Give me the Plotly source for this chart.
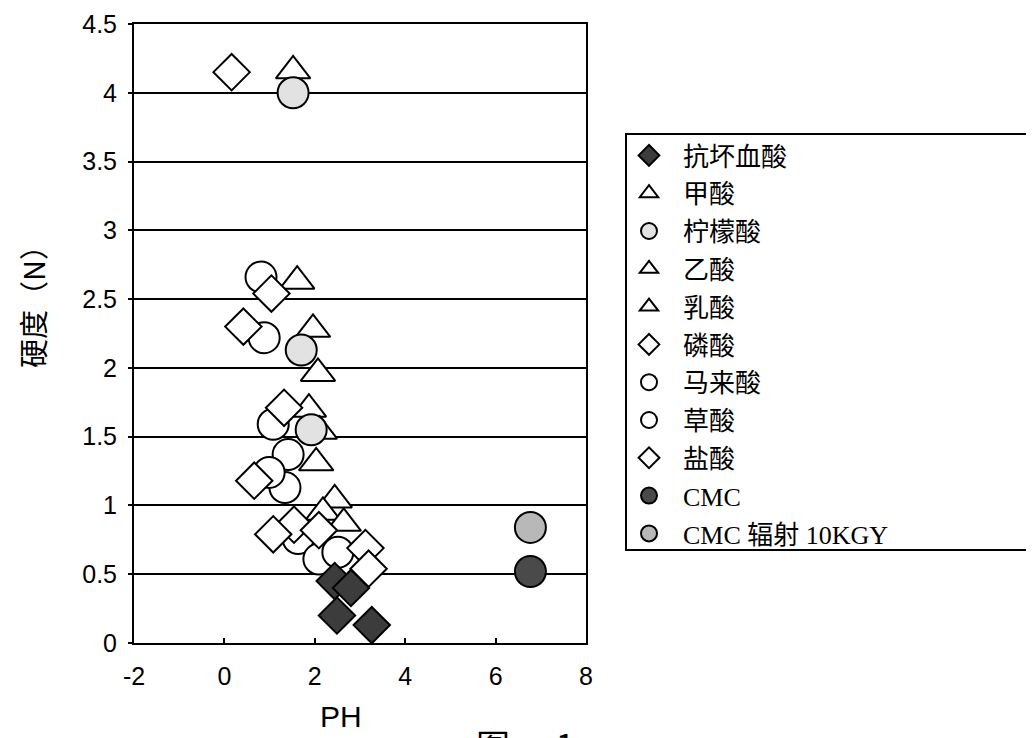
import plotly.graph_objects as go

# ---------------- data (pH, hardness N) ----------------
ascorbic_x = [2.44, 2.80, 2.49, 3.26]
ascorbic_y = [0.45, 0.40, 0.20, 0.13]
formic_x = [1.52, 1.61, 1.96, 2.07]
formic_y = [4.16, 2.63, 2.28, 1.96]
citric_x = [1.52, 1.70, 1.92]
citric_y = [4.00, 2.13, 1.55]
acetic_x = [1.87, 2.11, 2.03]
acetic_y = [1.70, 1.54, 1.31]
lactic_x = [2.44, 2.18, 2.64]
lactic_y = [1.04, 0.95, 0.87]
phosphoric_x = [1.04, 1.32, 1.54, 2.09, 3.12, 3.19]
phosphoric_y = [2.54, 1.71, 0.86, 0.82, 0.69, 0.54]
maleic_x = [1.41, 1.34, 1.63, 2.09, 2.51]
maleic_y = [1.37, 1.13, 0.76, 0.61, 0.66]
oxalic_x = [0.81, 0.88, 1.08, 0.99]
oxalic_y = [2.66, 2.22, 1.59, 1.24]
hcl_x = [0.16, 0.42, 0.66, 1.08]
hcl_y = [4.15, 2.30, 1.18, 0.79]
cmc_x = [6.77]
cmc_y = [0.52]
cmc_irr_x = [6.77]
cmc_irr_y = [0.84]

series_names = ["抗坏血酸", "甲酸", "柠檬酸", "乙酸", "乳酸", "磷酸",
                "马来酸", "草酸", "盐酸", "CMC", "CMC 辐射 10KGY"]

x_tick_vals = [-2, 0, 2, 4, 6, 8]
x_tick_text = ["-2", "0", "2", "4", "6", "8"]
y_tick_vals = [0, 0.5, 1, 1.5, 2, 2.5, 3, 3.5, 4, 4.5]
y_tick_text = ["0", "0.5", "1", "1.5", "2", "2.5", "3", "3.5", "4", "4.5"]

# ---------------- layout geometry (page pixels; the page body adds an 8px offset) ----------------
OFF = 8
W, H = 1034 - OFF, 738 - OFF
L, R, T, B = 134 - OFF, 586 - OFF, 24 - OFF, 643 - OFF
pw, ph = R - L, B - T


def px_x(p):
    return (p - OFF - L) / pw


def px_y(p):
    return (B - (p - OFF)) / ph


TRI, CIR, DIA = 30, 31, 28
black = "black"

# (x, y, name index, symbol, size, fill) in drawing order
draw = [
    (formic_x, formic_y, 1, "triangle-up", TRI, "white"),
    (acetic_x, acetic_y, 3, "triangle-up", TRI, "white"),
    (lactic_x, lactic_y, 4, "triangle-up", TRI, "white"),
    (maleic_x, maleic_y, 6, "circle", CIR, "white"),
    (oxalic_x, oxalic_y, 7, "circle", CIR, "white"),
    (phosphoric_x, phosphoric_y, 5, "diamond", DIA, "white"),
    (hcl_x, hcl_y, 8, "diamond", DIA, "white"),
    (citric_x, citric_y, 2, "circle", CIR, "#e2e2e2"),
    (ascorbic_x, ascorbic_y, 0, "diamond", DIA, "#3c3c3c"),
    (cmc_x, cmc_y, 9, "circle", CIR, "#4a4a4a"),
    (cmc_irr_x, cmc_irr_y, 10, "circle", CIR, "#b8b8b8"),
]

fig = go.Figure()
for xs, ys, idx, sym, size, fill in draw:
    fig.add_trace(go.Scatter(
        x=xs, y=ys, mode="markers", name=series_names[idx],
        legendgroup="g%d" % idx, legendrank=idx + 1,
        marker=dict(symbol=sym, size=size, color=fill,
                    line=dict(color=black, width=2)),
        cliponaxis=False,
    ))

axis_font = dict(family="Liberation Sans, Arial, sans-serif", size=25, color=black)

fig.update_layout(
    width=W, height=H,
    margin=dict(l=L, r=W - R, t=T, b=H - B, pad=0, autoexpand=False),
    paper_bgcolor="white", plot_bgcolor="white",
    showlegend=True,
    legend=dict(
        x=px_x(615), y=px_y(132), xanchor="left", yanchor="top",
        bgcolor="rgba(0,0,0,0)", borderwidth=0,
        font=dict(family="Liberation Serif, Noto Sans CJK SC, serif", size=26, color=black),
        itemwidth=58, tracegroupgap=1, traceorder="grouped",
    ),
    xaxis=dict(
        range=[-2, 8], tickvals=x_tick_vals, ticktext=x_tick_text,
        showgrid=False, zeroline=False, automargin=False, ticklabeloverflow="allow",
        showline=True, linecolor=black, linewidth=2, mirror=True,
        ticks="inside", ticklen=5, tickcolor=black, tickwidth=1.5,
        tickfont=axis_font, ticklabelstandoff=10,
    ),
    yaxis=dict(
        range=[0, 4.5], tickvals=y_tick_vals, ticktext=y_tick_text,
        showgrid=True, gridcolor=black, gridwidth=1.5, zeroline=False,
        automargin=False, ticklabeloverflow="allow",
        showline=True, linecolor=black, linewidth=2, mirror=True,
        ticks="outside", ticklen=4, tickcolor=black, tickwidth=1.5,
        tickfont=axis_font, ticklabelstandoff=6,
    ),
    shapes=[dict(type="rect", xref="paper", yref="paper",
                 x0=px_x(626), x1=px_x(1045), y0=px_y(550), y1=px_y(134),
                 line=dict(color=black, width=2), fillcolor="rgba(0,0,0,0)")],
    annotations=[
        dict(text="硬度（N）", xref="paper", yref="paper",
             x=px_x(32), y=px_y(300), xanchor="center", yanchor="middle",
             textangle=-90, showarrow=False,
             font=dict(family="Noto Sans CJK SC", size=29, color=black)),
        dict(text="PH", xref="paper", yref="paper",
             x=px_x(341), y=px_y(716), xanchor="center", yanchor="middle",
             showarrow=False,
             font=dict(family="Liberation Sans Narrow, Liberation Sans, sans-serif",
                       size=30, color=black)),
        dict(text="图      1", xref="paper", yref="paper",
             x=px_x(474), y=px_y(718), xanchor="left", yanchor="top",
             showarrow=False,
             font=dict(family="Noto Sans CJK SC", size=34, color=black)),
    ],
)

fig.write_html("out.html")
